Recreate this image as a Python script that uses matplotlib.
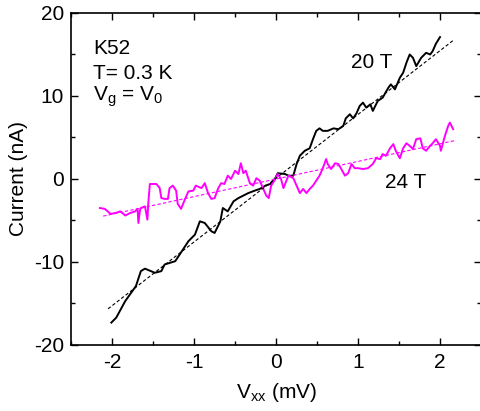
import matplotlib
matplotlib.use("Agg")
import matplotlib.pyplot as plt
from matplotlib.ticker import MultipleLocator

plt.rcParams['font.family'] = ['Liberation Sans', 'DejaVu Sans']
plt.rcParams['mathtext.fontset'] = 'custom'
plt.rcParams['mathtext.rm'] = 'Liberation Sans'
plt.rcParams['mathtext.it'] = 'Liberation Sans'
plt.rcParams['axes.unicode_minus'] = False

# 20 T trace
black_x = [-2.01, -1.95, -1.84, -1.71, -1.65, -1.60, -1.48, -1.40, -1.36, -1.23, -1.17, -1.07,
           -0.99, -0.93, -0.87, -0.79, -0.75, -0.68, -0.65, -0.59, -0.52, -0.46, -0.40, -0.34,
           -0.26, -0.20, -0.13, -0.07, -0.01, 0.02, 0.11, 0.15, 0.21, 0.25, 0.29, 0.35, 0.41,
           0.45, 0.49, 0.53, 0.57, 0.63, 0.70, 0.76, 0.82, 0.85, 0.90, 0.94, 0.98, 1.02, 1.06,
           1.10, 1.15, 1.18, 1.24, 1.30, 1.37, 1.40, 1.45, 1.51, 1.55, 1.59, 1.63, 1.67, 1.71,
           1.77, 1.83, 1.88, 1.91, 1.95, 2.00]
black_y = [-17.3, -16.7, -14.7, -12.9, -11.1, -10.8, -11.3, -11.1, -10.3, -9.9, -9.0, -7.5,
           -6.7, -5.1, -5.3, -6.3, -6.5, -5.1, -3.5, -3.9, -2.7, -2.3, -2.0, -1.7,
           -1.4, -1.2, -0.8, -0.6, 0.1, 0.7, 0.6, 0.4, 0.4, 1.8, 2.8, 3.4, 3.7,
           4.8, 5.8, 6.1, 5.8, 5.8, 6.1, 6.0, 6.4, 7.3, 7.8, 7.3, 7.9, 8.8, 9.2,
           8.6, 9.0, 8.2, 9.4, 9.8, 11.0, 11.4, 10.8, 12.2, 12.8, 14.0, 15.0, 14.6, 13.6,
           14.6, 15.2, 15.0, 15.4, 16.3, 17.1]

# 24 T trace
mag_x = [-2.15, -2.09, -2.02, -1.96, -1.90, -1.84, -1.78, -1.72, -1.69, -1.68, -1.66, -1.65,
         -1.60, -1.57, -1.56, -1.54, -1.46, -1.42, -1.40, -1.36, -1.32, -1.30, -1.26, -1.22,
         -1.20, -1.16, -1.11, -1.07, -1.01, -0.98, -0.91, -0.87, -0.83, -0.79, -0.75, -0.71,
         -0.67, -0.63, -0.59, -0.55, -0.50, -0.46, -0.43, -0.40, -0.37, -0.32, -0.28, -0.24,
         -0.20, -0.16, -0.12, -0.09, -0.06, -0.01, 0.02, 0.06, 0.09, 0.15, 0.21, 0.25,
         0.29, 0.33, 0.37, 0.41, 0.45, 0.49, 0.53, 0.57, 0.61, 0.63, 0.67, 0.72,
         0.76, 0.79, 0.84, 0.88, 0.92, 0.96, 1.00, 1.06, 1.12, 1.18, 1.22, 1.27,
         1.30, 1.34, 1.39, 1.43, 1.46, 1.51, 1.55, 1.59, 1.63, 1.67, 1.71, 1.76,
         1.79, 1.83, 1.88, 1.91, 1.95, 2.00, 2.01, 2.06, 2.10, 2.12, 2.16]
mag_y = [-3.5, -3.6, -4.2, -4.1, -3.9, -4.4, -4.1, -3.9, -3.6, -5.3, -3.7, -3.5,
         -3.3, -4.9, -3.0, -0.6, -0.6, -1.1, -2.3, -2.4, -2.4, -1.1, -0.8, -1.4,
         -3.0, -3.6, -2.4, -1.5, -1.4, -0.8, -1.1, -0.5, -1.7, -2.4, -2.3, -1.2,
         -0.5, -0.6, 0.4, 0.0, 1.0, 0.6, 1.9, 0.7, 1.0, -0.5, -0.8, 0.1,
         -0.2, -1.1, -2.0, -2.3, -0.8, 0.0, 0.6, 0.0, -1.1, 0.4, 0.1, -0.8,
         -1.7, -1.2, -1.7, -1.2, -0.8, -0.2, 0.4, 1.3, 2.4, 1.8, 1.2, 1.9,
         1.8, 1.3, 0.4, 0.7, 1.8, 1.3, 1.3, 1.2, 1.3, 1.8, 2.5, 2.4,
         3.0, 2.8, 3.7, 4.2, 3.4, 2.5, 3.7, 4.3, 4.0, 3.6, 4.8, 4.9,
         3.7, 3.4, 4.0, 4.3, 4.8, 4.0, 3.4, 5.2, 6.4, 6.8, 6.0]

# linear fits: (slope, intercept, x_start, x_end)
fit_20T = (7.68, 0.1, -2.05, 2.17)
fit_24T = (2.12, 0.0, -2.11, 2.18)

FS = 15

fig = plt.figure(figsize=(4.81, 4.11), dpi=100)
ax = fig.add_axes([0.148, 0.1606, 0.852, 0.8078])

ax.plot(black_x, black_y, color='black', lw=1.4)
ax.plot(mag_x, mag_y, color='#ff00ff', lw=1.4)

for (s, b, x0, x1), c in [(fit_20T, 'black'), (fit_24T, '#ff00ff')]:
    ax.plot([x0, x1], [s * x0 + b, s * x1 + b], color=c, lw=0.8,
            linestyle=(0, (3, 2)))

ax.set_xlim(-2.5, 2.5)
ax.set_ylim(-20, 20)
ax.xaxis.set_major_locator(MultipleLocator(1))
ax.xaxis.set_minor_locator(MultipleLocator(0.5))
ax.yaxis.set_major_locator(MultipleLocator(10))
ax.yaxis.set_minor_locator(MultipleLocator(5))
ax.tick_params(which='both', direction='in', top=True, right=True, labelsize=FS, width=1)
ax.tick_params(which='major', length=5)
ax.tick_params(which='minor', length=3)
ax.tick_params(axis='x', pad=6)
ax.tick_params(axis='y', pad=5)
for sp in ax.spines.values():
    sp.set_linewidth(1.2)

ax.set_xlabel(r'V$_{\mathregular{xx}}$ (mV)', fontsize=FS, labelpad=6)
ax.set_ylabel('Current (nA)', fontsize=FS, labelpad=4)

ax.text(-2.23, 15.1, 'K52', fontsize=FS, va='baseline', ha='left')
ax.text(-2.23, 12.0, 'T= 0.3 K', fontsize=FS, va='baseline', ha='left')
ax.text(-2.23, 9.4, r'V$_{\mathregular{g}}$ = V$_{\mathregular{0}}$', fontsize=FS, va='baseline', ha='left')
ax.text(0.91, 13.4, '20 T', fontsize=FS, va='baseline', ha='left')
ax.text(1.33, -1.1, '24 T', fontsize=FS, va='baseline', ha='left')

fig.savefig('out.png', dpi=100)
